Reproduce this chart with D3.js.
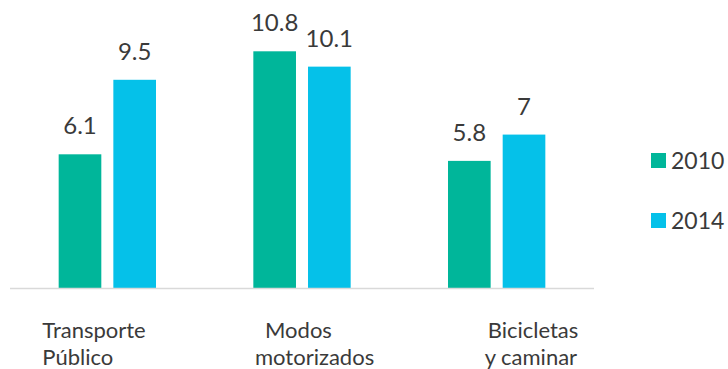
<!DOCTYPE html>
<html>
<head>
<meta charset="utf-8">
<script src="https://cdn.jsdelivr.net/npm/d3@7"></script>
<style>
  html, body { margin: 0; padding: 0; background: #fff; }
  svg { display: block; }
  text { font-family: Lato, "Open Sans", sans-serif; fill: #3a3a3a; }
</style>
</head>
<body>
<svg id="chart" width="728" height="369"></svg>
<script>
// Data
const categories = ["Transporte Público", "Modos motorizados", "Bicicletas y caminar"];
const categoryLines = [["Transporte", "Público"], ["Modos", "motorizados"], ["Bicicletas", "y caminar"]];
const years = ["2010", "2014"];
const values2010 = [6.1, 10.8, 5.8];
const values2014 = [9.5, 10.1, 7];
const seriesColors = ["#00b69a", "#05c1e9"];

// Layout: start offset of each label line from the group centre
const labelOffsets = [[-65, -65], [-37, -47], [-9, -12]];

const rows = categories.map((c, i) => ({
  category: c,
  lines: categoryLines[i],
  values: [values2010[i], values2014[i]]
}));

const svg = d3.select("#chart");
const baseY = 288;

const x0 = d3.scaleBand().domain(categories).range([10, 594]).paddingInner(0.5).paddingOuter(0.25);
const x1 = d3.scaleBand().domain(years).range([0, x0.bandwidth()]).paddingInner(0.22);
const y = d3.scaleLinear().domain([0, 12]).range([baseY, 25]);
const color = d3.scaleOrdinal().domain(years).range(seriesColors);

// Bars and value labels
const groups = svg.append("g").selectAll("g")
  .data(rows)
  .join("g")
  .attr("transform", d => `translate(${x0(d.category)},0)`);

const cells = groups.selectAll("g.bar")
  .data(d => years.map((yr, j) => ({ year: yr, value: d.values[j] })))
  .join("g").attr("class", "bar");

cells.append("rect")
  .attr("x", d => x1(d.year))
  .attr("width", x1.bandwidth())
  .attr("y", d => y(d.value))
  .attr("height", d => y(0) - y(d.value))
  .attr("fill", d => color(d.year));

cells.append("text")
  .attr("x", d => x1(d.year) + x1.bandwidth() / 2)
  .attr("y", d => y(d.value) - 20)
  .attr("text-anchor", "middle")
  .style("font-size", "24px")
  .text(d => d.value);

// Category axis line
svg.append("line")
  .attr("x1", x0.range()[0]).attr("x2", x0.range()[1])
  .attr("y1", baseY + 0.5).attr("y2", baseY + 0.5)
  .attr("stroke", "#d9d9d9").attr("stroke-width", 1.5);

// Category labels (two lines each)
rows.forEach((d, i) => {
  const cx = x0(d.category) + x0.bandwidth() / 2;
  d.lines.forEach((line, k) => {
    svg.append("text")
      .attr("x", cx + labelOffsets[i][k])
      .attr("y", 338 + k * 27)
      .style("font-size", "22px")
      .text(line);
  });
});

// Legend
const legend = svg.append("g").selectAll("g")
  .data(years)
  .join("g")
  .attr("transform", (d, i) => `translate(651,${153 + i * 60})`);

legend.append("rect")
  .attr("width", 15).attr("height", 15)
  .attr("fill", d => color(d));

legend.append("text")
  .attr("x", 20).attr("y", 16)
  .style("font-size", "23px")
  .text(d => d);
</script>
</body>
</html>
